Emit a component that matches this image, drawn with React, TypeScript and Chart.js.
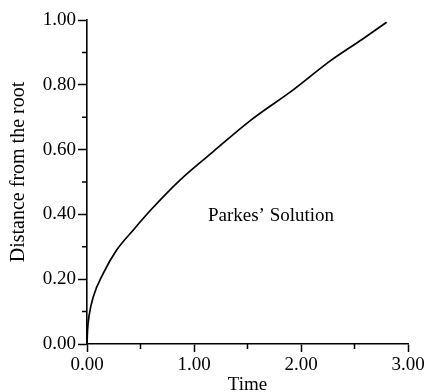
import React, { useEffect, useRef } from "react";
import { Chart, registerables } from "chart.js";
Chart.register(...registerables);

const times = [0, 0.005, 0.02, 0.059, 0.152, 0.277, 0.433, 0.6, 0.869, 1.18, 1.52, 1.93, 2.27, 2.57, 2.8];
const distances = [0, 0.042, 0.088, 0.146, 0.218, 0.29, 0.352, 0.415, 0.506, 0.594, 0.688, 0.785, 0.873, 0.94, 0.993];
const xMinorTicks = [0.5, 1.5, 2.5];
const yMinorTicks = [0.1, 0.3, 0.5, 0.7, 0.9];
const annotationText = "Parkes\u2019 Solution";
const annotationPos = { x: 1.13, y: 0.395 };

const FONT = "'Liberation Serif', 'DejaVu Serif', serif";

const extrasPlugin = {
  id: "extras",
  afterDraw(chart: any) {
    const ctx = chart.ctx;
    const xs = chart.scales.x;
    const ys = chart.scales.y;
    ctx.save();
    ctx.strokeStyle = "#000";
    ctx.lineWidth = 1.5;
    ctx.beginPath();
    for (const v of xMinorTicks) {
      const px = xs.getPixelForValue(v);
      ctx.moveTo(px, ys.bottom);
      ctx.lineTo(px, ys.bottom + 5);
    }
    for (const v of yMinorTicks) {
      const py = ys.getPixelForValue(v);
      ctx.moveTo(xs.left, py);
      ctx.lineTo(xs.left - 5, py);
    }
    ctx.stroke();
    ctx.fillStyle = "#000";
    ctx.font = `19px ${FONT}`;
    ctx.textAlign = "left";
    ctx.textBaseline = "middle";
    ctx.fillText(annotationText, xs.getPixelForValue(annotationPos.x), ys.getPixelForValue(annotationPos.y));
    ctx.restore();
  },
};

export default function App() {
  const ref = useRef<HTMLCanvasElement | null>(null);
  useEffect(() => {
    if (!ref.current) return;
    const chart = new Chart(ref.current, {
      type: "line",
      data: {
        datasets: [
          {
            data: times.map((t, i) => ({ x: t, y: distances[i] })),
            borderColor: "#000",
            borderWidth: 1.7,
            pointRadius: 0,
            cubicInterpolationMode: "monotone",
            fill: false,
          },
        ],
      },
      options: {
        animation: false,
        responsive: false,
        devicePixelRatio: 1,
        layout: { padding: { top: 20, right: 21, left: 0, bottom: 0 } },
        plugins: { legend: { display: false }, tooltip: { enabled: false } },
        scales: {
          x: {
            type: "linear",
            min: 0,
            max: 3,
            afterFit: (s: any) => {
              s.height = 48;
            },
            border: { display: true, color: "#000", width: 1.6 },
            grid: { display: true, drawOnChartArea: false, drawTicks: true, tickLength: 8, tickColor: "#000", tickWidth: 1.5 },
            ticks: {
              stepSize: 1,
              padding: 2,
              color: "#000",
              font: { family: FONT, size: 19 },
              callback: (v: any) => Number(v).toFixed(2),
              maxRotation: 0,
            },
            title: {
              display: true,
              text: "Time",
              color: "#000",
              font: { family: FONT, size: 19, lineHeight: 1 },
              padding: { top: 0, bottom: -3 },
            },
          },
          y: {
            type: "linear",
            min: 0,
            max: 1,
            afterFit: (s: any) => {
              s.width = 87;
            },
            border: { display: true, color: "#000", width: 1.6 },
            grid: { display: true, drawOnChartArea: false, drawTicks: true, tickLength: 9, tickColor: "#000", tickWidth: 1.5 },
            ticks: {
              stepSize: 0.2,
              padding: 2,
              color: "#000",
              font: { family: FONT, size: 19 },
              callback: (v: any) => Number(v).toFixed(2),
            },
            title: {
              display: true,
              text: "\u00a0\u00a0\u00a0\u00a0Distance from the root",
              color: "#000",
              font: { family: FONT, size: 20 },
              padding: { top: 7, bottom: 0 },
            },
          },
        },
      },
      plugins: [extrasPlugin],
    } as any);
    return () => chart.destroy();
  }, []);
  return (
    <div style={{ position: "absolute", left: 0, top: 0, width: 429, height: 392, background: "#fff" }}>
      <canvas ref={ref} width={429} height={392} style={{ width: 429, height: 392, display: "block" }} />
    </div>
  );
}
